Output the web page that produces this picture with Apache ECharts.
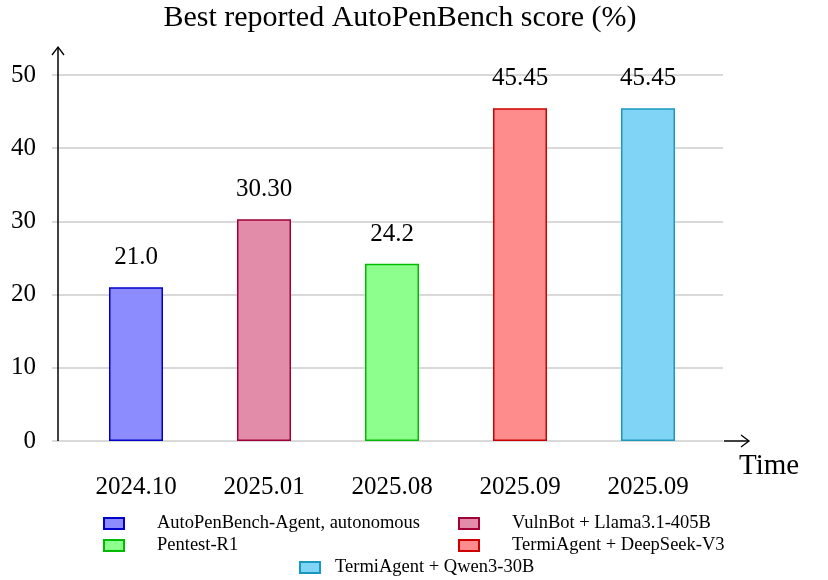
<!DOCTYPE html>
<html>
<head>
<meta charset="utf-8">
<script src="https://cdn.jsdelivr.net/npm/echarts@6/dist/echarts.min.js"></script>
<style>html,body{margin:0;padding:0;background:#fff;}#c{width:828px;height:580px;}</style>
</head>
<body>
<div id="c"></div>
<script>
const categories = ['2024.10', '2025.01', '2025.08', '2025.09', '2025.09'];
const seriesNames = ['AutoPenBench-Agent, autonomous', 'VulnBot + Llama3.1-405B', 'Pentest-R1', 'TermiAgent + DeepSeek-V3', 'TermiAgent + Qwen3-30B'];
const scores = [21.0, 30.30, 24.2, 45.45, 45.45];
const scoreLabels = ['21.0', '30.30', '24.2', '45.45', '45.45'];
const yTicks = [0, 10, 20, 30, 40, 50];

const fills = ['#8c8cff', '#e28ca9', '#8cff8c', '#ff8c8c', '#80d4f5'];
const borders = ['#0000cc', '#a3003a', '#00bb00', '#cc0000', '#1a98c0'];
const FONT = '"Liberation Serif", "DejaVu Serif", serif';

const chart = echarts.init(document.getElementById('c'), null, {renderer: 'canvas'});

const series = seriesNames.map((name, i) => ({
  name: name,
  type: 'bar',
  barWidth: 54,
  barGap: '-100%',
  data: [[i, scores[i]]],
  itemStyle: {color: fills[i], borderColor: borders[i], borderWidth: 1.5},
  label: {
    show: true, position: 'top', distance: 17,
    formatter: () => scoreLabels[i],
    fontFamily: FONT, fontSize: 25, color: '#000'
  },
  emphasis: {disabled: true},
  animation: false
}));

const legendPos = [
  {left: 103, top: 514, pad: 28},
  {left: 458, top: 514, pad: 28},
  {left: 103, top: 536, pad: 28},
  {left: 458, top: 536, pad: 28},
  {left: 299, top: 558, pad: 10}
];
const legends = seriesNames.map((name, i) => ({
  data: [{name: name, icon: 'rect'}],
  left: legendPos[i].left,
  top: legendPos[i].top,
  itemWidth: 20, itemHeight: 11,
  padding: 0,
  selectedMode: false,
  textStyle: {fontFamily: FONT, fontSize: 18.5, color: '#000', padding: [0, 0, 0, legendPos[i].pad]}
}));

const unit = 128;
const gridLeft = 52;
const gridRight = 723;
const xMin = (gridLeft - 136) / unit;
const xMax = xMin + (gridRight - gridLeft) / unit;

chart.setOption({
  backgroundColor: '#fff',
  animation: false,
  title: {
    text: 'Best reported AutoPenBench score (%)',
    left: 395, top: -2, textAlign: 'center',
    textStyle: {fontFamily: FONT, fontSize: 30, fontWeight: 'normal', color: '#000'}
  },
  legend: legends,
  grid: {left: gridLeft, top: 75, width: gridRight - gridLeft, height: 366, containLabel: false},
  xAxis: {
    type: 'value', min: xMin, max: xMax,
    axisLine: {show: false},
    axisTick: {show: false},
    splitLine: {show: false},
    axisLabel: {
      customValues: [0, 1, 2, 3, 4],
      formatter: v => categories[Math.round(v)],
      fontFamily: FONT, fontSize: 25, color: '#000', margin: 34
    }
  },
  yAxis: {
    type: 'value', min: 0, max: 50, interval: 10,
    axisLine: {show: false},
    axisTick: {show: false},
    splitLine: {show: true, lineStyle: {color: '#cccccc', width: 1.5}},
    axisLabel: {fontFamily: FONT, fontSize: 25, color: '#000', margin: 16}
  },
  graphic: [
    {type: 'line', shape: {x1: 58, y1: 441, x2: 58, y2: 47}, style: {stroke: '#000', lineWidth: 1.5}, z: 100},
    {type: 'polyline', shape: {points: [[52, 55], [58, 47], [64, 55]]}, style: {stroke: '#000', lineWidth: 1.3, fill: null}, z: 100},
    {type: 'line', shape: {x1: 724, y1: 441, x2: 749, y2: 441}, style: {stroke: '#000', lineWidth: 1.5}, z: 100},
    {type: 'polyline', shape: {points: [[741, 435], [749, 441], [741, 447]]}, style: {stroke: '#000', lineWidth: 1.3, fill: null}, z: 100},
    {type: 'text', left: 739, top: 452, style: {text: 'Time', font: '29px ' + FONT, fill: '#000'}}
  ],
  series: series
});
</script>
</body>
</html>
